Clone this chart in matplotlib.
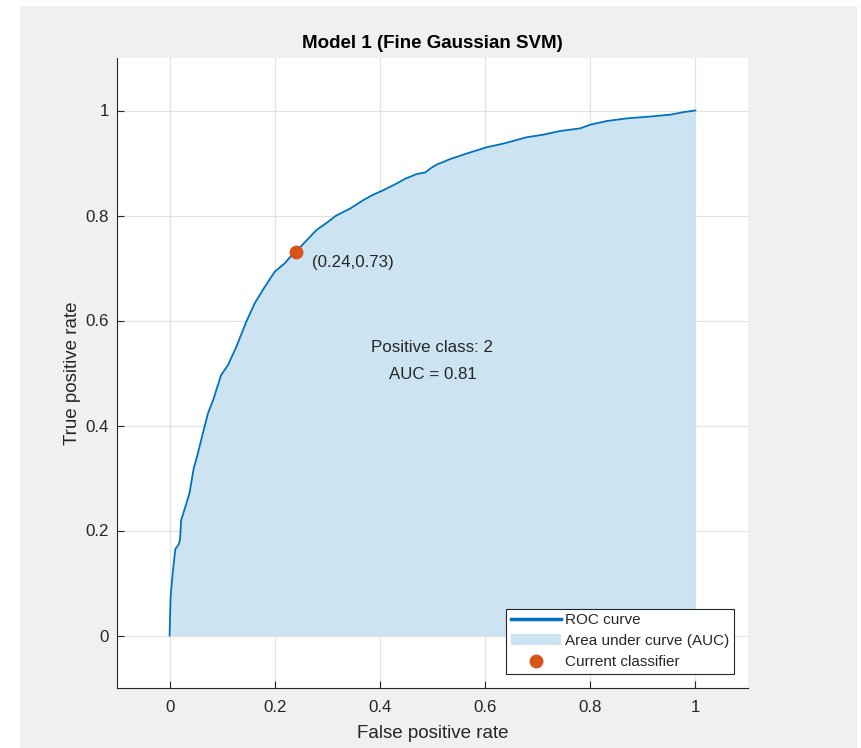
import matplotlib
matplotlib.use("Agg")
import matplotlib.pyplot as plt
from matplotlib.patches import Rectangle

plt.rcParams['font.family'] = ['Liberation Sans', 'DejaVu Sans']

# ROC curve points (false positive rate, true positive rate)
fpr = [0, 0.001, 0.002, 0.006, 0.011, 0.015, 0.018, 0.020, 0.022, 0.030,
       0.038, 0.046, 0.052, 0.057, 0.065, 0.073, 0.083, 0.089, 0.098, 0.111,
       0.127, 0.146, 0.162, 0.181, 0.200, 0.219, 0.232, 0.243, 0.260, 0.279,
       0.300, 0.317, 0.343, 0.368, 0.384, 0.406, 0.430, 0.448, 0.470, 0.486,
       0.498, 0.508, 0.535, 0.565, 0.603, 0.635, 0.679, 0.711, 0.743, 0.781,
       0.800, 0.832, 0.870, 0.908, 0.952, 0.978, 1.0]
tpr = [0, 0.040, 0.074, 0.120, 0.165, 0.170, 0.175, 0.185, 0.220, 0.245,
       0.272, 0.319, 0.340, 0.360, 0.392, 0.423, 0.449, 0.468, 0.496, 0.515,
       0.550, 0.598, 0.633, 0.664, 0.693, 0.709, 0.724, 0.734, 0.752, 0.772,
       0.787, 0.800, 0.813, 0.829, 0.838, 0.848, 0.860, 0.870, 0.879, 0.882,
       0.891, 0.897, 0.908, 0.918, 0.930, 0.937, 0.949, 0.954, 0.961, 0.966,
       0.973, 0.980, 0.985, 0.988, 0.992, 0.997, 1.0]

# operating point of the current classifier
op_fpr = 0.24
op_tpr = 0.73
positive_class = 2
auc = 0.81

ticks = [0, 0.2, 0.4, 0.6, 0.8, 1]
tick_labels = ["0", "0.2", "0.4", "0.6", "0.8", "1"]

line_col = "#0072BD"
fill_col = "#cce3f2"
dot_col = "#D95319"
txt_col = "#262626"

fig = plt.figure(figsize=(8.61, 7.48), dpi=100, facecolor="white")
fig.patches.append(Rectangle((20 / 861, 0), 837 / 861, 742 / 748,
                             transform=fig.transFigure, facecolor="#f0f0f0",
                             edgecolor="none", zorder=-10))

ax = fig.add_axes([117 / 861, 60 / 748, 631 / 861, 630 / 748])
ax.set_facecolor("white")

ax.fill_between(fpr, 0, tpr, color=fill_col, lw=0, label="Area under curve (AUC)", zorder=2)
ax.plot(fpr, tpr, color=line_col, lw=1.3, zorder=3)
ax.plot(op_fpr, op_tpr, "o", color=dot_col, ms=9, mec=dot_col, zorder=4,
        label="Current classifier")
ax.plot([], [], color=line_col, lw=2.5, label="ROC curve")

ax.text(op_fpr + 0.03, op_tpr - 0.02, f"({op_fpr:.2f},{op_tpr:.2f})",
        ha="left", va="center", fontsize=12.2, color=txt_col, zorder=5)
ax.text(0.5, 0.548, f"Positive class: {positive_class}", ha="center", va="center",
        fontsize=12.2, color=txt_col, zorder=5)
ax.text(0.5, 0.497, f"AUC = {auc:.2f}", ha="center", va="center",
        fontsize=12.2, color=txt_col, zorder=5)

ax.set_xlim(-0.1, 1.1)
ax.set_ylim(-0.1, 1.1)
ax.set_xticks(ticks)
ax.set_xticklabels(tick_labels)
ax.set_yticks(ticks)
ax.set_yticklabels(tick_labels)
ax.tick_params(direction="in", length=5, width=0.8, colors=txt_col,
               labelsize=12.2)
ax.tick_params(axis="x", pad=9)
ax.tick_params(axis="y", pad=6)
ax.grid(True, color="#e2e2e2", lw=0.9, zorder=0)
ax.set_axisbelow(True)
for side in ["top", "right"]:
    ax.spines[side].set_visible(False)
for side in ["left", "bottom"]:
    ax.spines[side].set_color(txt_col)
    ax.spines[side].set_linewidth(0.8)

ax.set_xlabel("False positive rate", fontsize=13.5, color=txt_col, labelpad=7)
ax.set_ylabel("True positive rate", fontsize=13.5, color=txt_col, labelpad=3)
ax.set_title("Model 1 (Fine Gaussian SVM)", fontsize=13.5, fontweight="bold",
             color="black", pad=7)

handles, labels = ax.get_legend_handles_labels()
order = [labels.index("ROC curve"), labels.index("Area under curve (AUC)"),
         labels.index("Current classifier")]
leg = ax.legend([handles[i] for i in order], [labels[i] for i in order],
                loc="lower right", bbox_to_anchor=(0.978, 0.023),
                borderaxespad=0, fontsize=11, fancybox=False, framealpha=1,
                edgecolor=txt_col, handlelength=3.3, handletextpad=0.25,
                labelspacing=0.45, borderpad=0.3)
leg.get_frame().set_linewidth(0.8)
for t in leg.get_texts():
    t.set_color(txt_col)

fig.savefig("out.png", dpi=100, facecolor=fig.get_facecolor())
